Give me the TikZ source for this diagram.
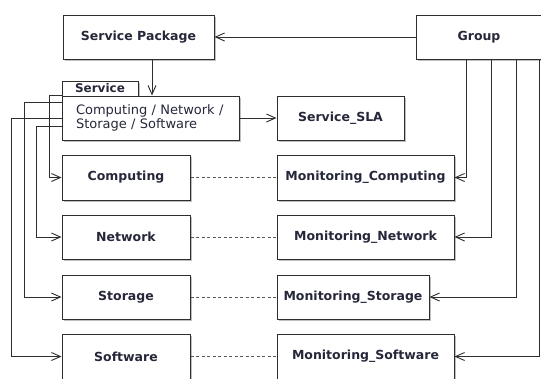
\documentclass[tikz,border=0pt]{standalone}
\usepackage{fontspec}
\setmainfont{DejaVu Sans}
\usetikzlibrary{arrows.meta,shadows,calc}
\definecolor{ln}{HTML}{2E2E2E}
\definecolor{tx}{HTML}{26283A}
\tikzset{
  box/.style={draw=ln, line width=1pt, fill=white, text=tx,
    font=\fontsize{12.5}{15}\selectfont\bfseries,
    drop shadow={shadow xshift=1.6pt, shadow yshift=-1.6pt, fill=black!25, opacity=1},
    inner sep=0pt, minimum height=44pt},
  arr/.style={draw=ln, line width=0.9pt, -{Straight Barb[length=9pt,width=8pt,line width=0.9pt]}},
  dashline/.style={draw=ln!80, line width=0.8pt, dash pattern=on 3pt off 2.5pt},
  plain/.style={draw=ln, line width=0.9pt}
}
\begin{document}
\begin{tikzpicture}[x=1pt,y=-1pt]
\useasboundingbox (0,0) rectangle (541,378);
\clip (0,0) rectangle (541,378);
\fill[white] (0,0) rectangle (541,378);
% boxes
\node[box, minimum width=151pt] (sp) at (138.5,37) {Service Package};
\node[box, minimum width=126pt] (grp) at (479,37) {Group};
\node[box, minimum width=76pt, minimum height=15pt, font=\fontsize{12}{13}\selectfont\bfseries] (tab) at (100,88.5) {Service};
\node[box, minimum width=177pt, text width=149pt, inner xsep=14pt, align=left,
      font=\fontsize{13}{14}\selectfont] (svc) at (150.5,118) {Computing / Network /\\Storage / Software};
\node[box, minimum width=127pt] (sla) at (340.5,118) {Service\_SLA};
\node[box, minimum width=128pt, minimum height=45pt] (comp) at (126,177.5) {Computing};
\node[box, minimum width=128pt, minimum height=44pt] (net) at (126,237) {Network};
\node[box, minimum width=128pt, minimum height=44pt] (sto) at (126,297) {Storage};
\node[box, minimum width=128pt, minimum height=45pt] (sw) at (126,356.5) {Software};
\node[box, minimum width=177pt, minimum height=45pt] (mcomp) at (365.5,177.5) {Monitoring\_Computing};
\node[box, minimum width=177pt, minimum height=44pt] (mnet) at (365.5,237) {Monitoring\_Network};
\node[box, minimum width=152pt, minimum height=44pt] (msto) at (353,297) {Monitoring\_Storage};
\node[box, minimum width=177pt, minimum height=45pt] (msw) at (365.5,356.5) {Monitoring\_Software};
% connectors
\draw[arr] (grp.west) -- (sp.east);
\draw[arr] ([xshift=13.5pt]sp.south) -- ([xshift=13.5pt]sp.south |- svc.north);
\draw[arr] (svc.east) -- (sla.west);
\draw[arr] (svc.north west) -- ++(-12,0) |- (comp.west);
\draw[arr] ([yshift=-7pt]svc.north west) -- ++(-37,0) |- (sto.west);
\draw[arr] (svc.west) -- ++(-50,0) |- (sw.west);
\draw[arr] ([yshift=-8pt]svc.west) -- ++(-25,0) |- (net.west);
\draw[dashline] (comp.east) -- (mcomp.west);
\draw[dashline] (net.east) -- (mnet.west);
\draw[dashline] (sto.east) -- (msto.west);
\draw[dashline] (sw.east) -- (msw.west);
\draw[arr] ([xshift=-13pt]grp.south) |- (mcomp.east);
\draw[arr] ([xshift=12pt]grp.south) |- (mnet.east);
\draw[arr] ([xshift=37pt]grp.south) |- (msto.east);
\draw[arr] ([xshift=60pt]grp.south) |- (msw.east);
\end{tikzpicture}
\end{document}
